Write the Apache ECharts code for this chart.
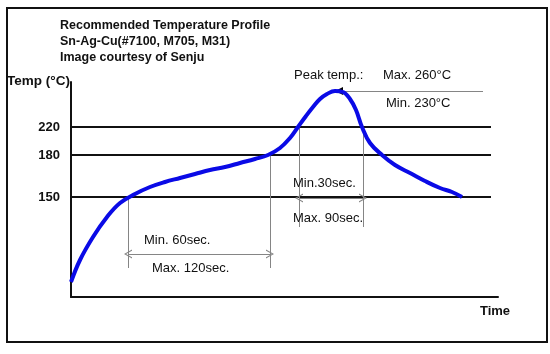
<!DOCTYPE html>
<html lang="en">
<head>
	<meta charset="UTF-8">
	<title>Recommended Temperature Profile</title>
	<script src="https://cdn.jsdelivr.net/npm/echarts@6/dist/echarts.min.js"></script>
	<style>
		html, body { margin: 0; padding: 0; background: #fff; }
		#chart { width: 550px; height: 354px; }
	</style>
</head>
<body>
	<div id="chart"></div>
	<script>
		// schematic chart: both axes are in drawing units, not real seconds / degrees
		var profileTime  = [0, 9, 22, 36, 49, 64, 79, 94, 109, 124, 139, 154, 169, 184, 197, 209, 219, 227, 235, 242, 249, 256, 264, 272, 279, 285, 291, 299, 311, 324, 339, 354, 369, 381, 391];
		var profileLevel = [15, 37, 60, 80, 94, 103, 110, 115, 119, 123, 127, 130, 134, 138, 142, 149, 159, 170, 181, 190, 198, 203, 206, 205, 198, 187, 170, 154, 142, 132, 124, 116, 109, 105, 100];

		var tempLabels = ['150', '180', '220'];   // tick labels
		var tempLevels = [100, 142, 170];          // where those ticks sit on the schematic axis
		var gridEnd = 420;

		var peakLevel = 206;
		var soakSpan = [57, 199];    // Min. 60sec. / Max. 120sec.
		var reflowSpan = [228, 292]; // Min.30sec. / Max. 90sec.

		var FONT = "'Liberation Sans', Arial, sans-serif";
		var chevron = 'path://M0,10 L5,0 L10,10 L8.6,10 L5,2.6 L1.4,10 Z';

		var profile = profileTime.map(function (t, i) { return [t, profileLevel[i]]; });

		var gridLines = tempLevels.map(function (lv, i) {
			return [
				{ coord: [0, lv], label: { formatter: tempLabels[i] } },
				{ coord: [gridEnd, lv] }
			];
		});

		var annoLines = [
			// verticals for soak window
			[{ coord: [soakSpan[0], tempLevels[0]] }, { coord: [soakSpan[0], 29] }],
			[{ coord: [soakSpan[1], tempLevels[1]] }, { coord: [soakSpan[1], 29] }],
			[{ coord: [soakSpan[0], 43], symbol: chevron }, { coord: [soakSpan[1], 43], symbol: chevron }],
			// verticals for reflow window
			[{ coord: [reflowSpan[0], tempLevels[2]] }, { coord: [reflowSpan[0], 70] }],
			[{ coord: [reflowSpan[1], tempLevels[2]] }, { coord: [reflowSpan[1], 70] }],
			[{ coord: [reflowSpan[0], 99], symbol: chevron }, { coord: [reflowSpan[1], 99], symbol: chevron }],
			// peak pointer
			[{ coord: [272, peakLevel] }, { coord: [412, peakLevel] }]
		];

		function txt(x, y, s) {
			return { type: 'text', z: 10, style: { text: s, x: x, y: y, fill: '#111', font: '13px ' + FONT, verticalAlign: 'middle' } };
		}

		var option = {
			animation: false,
			backgroundColor: '#fff',
			title: {
				text: 'Recommended Temperature Profile\nSn-Ag-Cu(#7100, M705, M31)\nImage courtesy of Senju',
				left: 60, top: 18, padding: 0,
				textStyle: { fontFamily: FONT, fontSize: 12.5, fontWeight: 'bold', color: '#111', lineHeight: 16 }
			},
			grid: { left: 71, top: 82, width: 427, height: 215 },
			xAxis: {
				type: 'value', min: 0, max: 427,
				name: 'Time', nameLocation: 'end', nameGap: -3,
				nameTextStyle: { fontFamily: FONT, fontSize: 13, fontWeight: 'bold', color: '#111', align: 'center', verticalAlign: 'top', padding: [8, 0, 0, 0] },
				axisLine: { lineStyle: { color: '#111', width: 2 } },
				axisTick: { show: false }, axisLabel: { show: false }, splitLine: { show: false }
			},
			yAxis: {
				type: 'value', min: 0, max: 215,
				name: 'Temp (°C)', nameLocation: 'end', nameGap: 1,
				nameTextStyle: { fontFamily: FONT, fontSize: 13.5, fontWeight: 'bold', color: '#111', align: 'right', verticalAlign: 'middle', padding: [0, 1, 0, 0] },
				axisLine: { show: true, lineStyle: { color: '#111', width: 2 } },
				axisTick: { show: false }, axisLabel: { show: false }, splitLine: { show: false }
			},
			series: [
				{
					type: 'line', data: [], silent: true,
					markLine: {
						silent: true, symbol: 'none', animation: false,
						lineStyle: { color: '#111', width: 2, type: 'solid' },
						label: { position: 'start', distance: 11, fontFamily: FONT, fontSize: 13, fontWeight: 'bold', color: '#111' },
						emphasis: { disabled: true },
						data: gridLines
					}
				},
				{
					type: 'line', data: [], silent: true,
					markLine: {
						silent: true, symbol: 'none', symbolSize: [9, 8], animation: false,
						lineStyle: { color: '#858585', width: 1, type: 'solid' },
						label: { show: false },
						emphasis: { disabled: true },
						data: annoLines
					},
					markPoint: {
						silent: true, animation: false,
						data: [{ coord: [268, peakLevel], symbol: 'triangle', symbolSize: [8, 8], symbolRotate: 90, itemStyle: { color: '#000' }, label: { show: false } }]
					}
				},
				{
					type: 'line', data: profile, smooth: 0.4, showSymbol: false, silent: true, z: 5,
					lineStyle: { color: '#0a0ae6', width: 4 }
				}
			],
			graphic: [
				{ type: 'rect', shape: { x: 7, y: 8, width: 540, height: 334 }, style: { fill: 'none', stroke: '#111', lineWidth: 2 }, z: 0 },
				txt(294, 75, 'Peak temp.:'),
				txt(383, 75, 'Max. 260°C'),
				txt(386, 103, 'Min. 230°C'),
				txt(144, 240, 'Min. 60sec.'),
				txt(152, 268, 'Max. 120sec.'),
				txt(293, 183, 'Min.30sec.'),
				txt(293, 218, 'Max. 90sec.')
			]
		};

		var myChart = echarts.init(document.getElementById('chart'));
		myChart.setOption(option);
	</script>
</body>
</html>
